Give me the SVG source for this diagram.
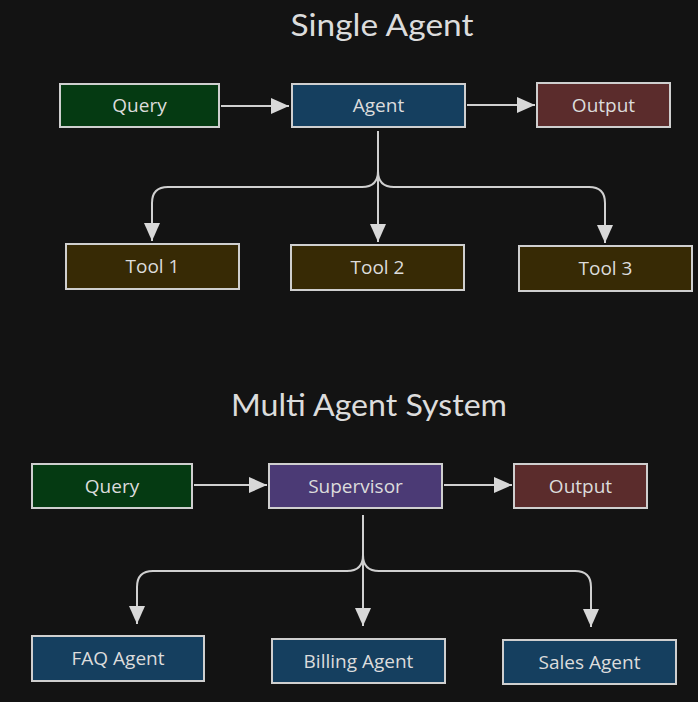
<svg xmlns="http://www.w3.org/2000/svg" width="698" height="702" viewBox="0 0 698 702">
<style>
.bg{fill:#131313}
.box{stroke:#cfcfcf;stroke-width:2}
.lbl{font-family:"Open Sans",Lato,"DejaVu Sans",sans-serif;font-size:19px;fill:#dcdcdc;text-anchor:middle;dominant-baseline:central}
.title{font-family:Lato,"Open Sans","DejaVu Sans",sans-serif;font-size:31px;fill:#dcdcdc;text-anchor:middle}
.edge{fill:none;stroke:#d0d0d0;stroke-width:2;marker-end:url(#arr)}
.q{fill:#053a12}.ag{fill:#153f5f}.out{fill:#5b2c2c}.tool{fill:#372a05}.sup{fill:#4b3a75}
</style>
<defs>
<marker id="arr" markerUnits="userSpaceOnUse" markerWidth="18" markerHeight="16" refX="18" refY="8" orient="auto">
<path d="M0,0 L18,8 L0,16 z" fill="#d8d8d8"/>
</marker>
</defs>
<rect class="bg" x="0" y="0" width="698" height="702"/>
<text class="title" x="382" y="36" textLength="183" lengthAdjust="spacingAndGlyphs">Single Agent</text>
<text class="title" x="369" y="416" textLength="276" lengthAdjust="spacingAndGlyphs">Multi Agent System</text>
<g id="connectors">
<path class="edge" d="M221,106 L289,106"/>
<path class="edge" d="M467,105 L535,105"/>
<path class="edge" d="M378,131 L378,242"/>
<path class="edge" d="M378,131 L378,171 Q378,187 362,187 L168,187 Q152,187 152,203 L152,241"/>
<path class="edge" d="M378,171 Q378,187 394,187 L589,187 Q605,187 605,203 L605,243"/>
<path class="edge" d="M194,485 L267,485"/>
<path class="edge" d="M444,485 L512,485"/>
<path class="edge" d="M363,515 L363,626"/>
<path class="edge" d="M363,515 L363,555 Q363,571 347,571 L153,571 Q137,571 137,587 L137,624"/>
<path class="edge" d="M363,555 Q363,571 379,571 L575,571 Q591,571 591,587 L591,627"/>
</g>
<g id="s_query"><rect class="box q" x="60" y="84" width="159" height="43"/><text class="lbl" x="139.5" y="105">Query</text></g>
<g id="s_agent"><rect class="box ag" x="292" y="84" width="173" height="43"/><text class="lbl" x="378.5" y="105">Agent</text></g>
<g id="s_output"><rect class="box out" x="537" y="83" width="133" height="44"/><text class="lbl" x="603.5" y="104.5">Output</text></g>
<g id="tool1"><rect class="box tool" x="66" y="244" width="173" height="45"/><text class="lbl" x="152.5" y="266">Tool 1</text></g>
<g id="tool2"><rect class="box tool" x="291" y="245" width="173" height="45"/><text class="lbl" x="377.5" y="267">Tool 2</text></g>
<g id="tool3"><rect class="box tool" x="519" y="246" width="173" height="45"/><text class="lbl" x="605.5" y="268">Tool 3</text></g>
<g id="m_query"><rect class="box q" x="32" y="464" width="160" height="44"/><text class="lbl" x="112" y="485.5">Query</text></g>
<g id="m_supervisor"><rect class="box sup" x="269" y="464" width="173" height="44"/><text class="lbl" x="355.5" y="485.5">Supervisor</text></g>
<g id="m_output"><rect class="box out" x="514" y="464" width="133" height="44"/><text class="lbl" x="580.5" y="486">Output</text></g>
<g id="faq"><rect class="box ag" x="32" y="636" width="172" height="45"/><text class="lbl" x="118" y="658">FAQ Agent</text></g>
<g id="billing"><rect class="box ag" x="272" y="639" width="173" height="44"/><text class="lbl" x="358.5" y="660.5">Billing Agent</text></g>
<g id="sales"><rect class="box ag" x="503" y="640" width="173" height="44"/><text class="lbl" x="589.5" y="661.5">Sales Agent</text></g>
</svg>
